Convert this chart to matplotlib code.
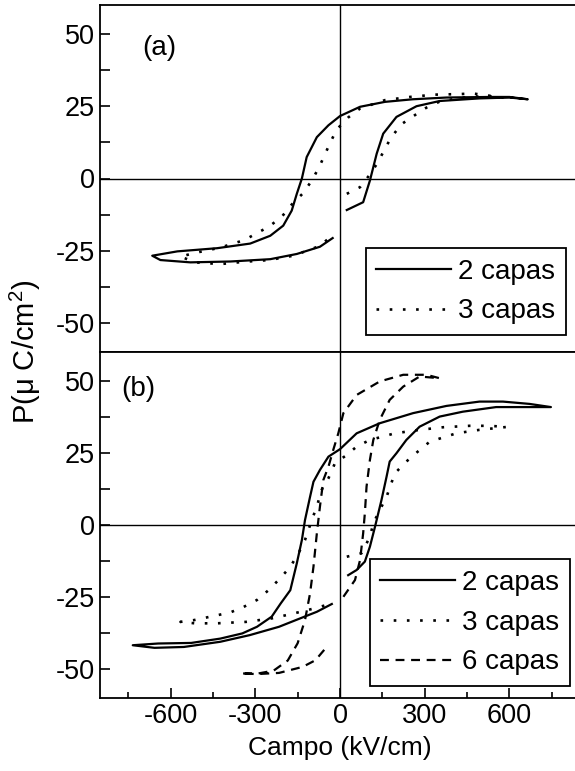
import matplotlib; matplotlib.use('Agg')
import matplotlib.pyplot as plt
from matplotlib.ticker import MultipleLocator

plt.rcParams['font.family'] = ['Liberation Sans', 'DejaVu Sans']
plt.rcParams['axes.unicode_minus'] = False
plt.rcParams['mathtext.fontset'] = 'custom'
plt.rcParams['mathtext.rm'] = 'Liberation Sans'
plt.rcParams['mathtext.it'] = 'Liberation Sans:italic'

# ---- (a) ----
a2_x = [24, 82, 106, 130, 153, 200, 271, 353, 494, 600, 665, 600, 530, 377, 258, 159, 71, 0,
        -41, -82, -118, -135, -153, -171, -201, -247, -318, -435, -576, -665,
        -636, -530, -388, -247, -153, -71, -26]
a2_y = [-10.9, -8.2, -0.7, 8.6, 15.5, 21.3, 25.0, 26.8, 27.7, 28.0, 27.4, 28.2, 28.2, 28.0, 27.4, 26.5, 24.8, 21.6,
        18.4, 14.3, 7.4, 0.0, -5.3, -11.1, -16.3, -19.8, -22.5, -24.1, -25.2, -26.7,
        -28.2, -29.0, -28.7, -27.9, -26.1, -23.6, -20.6]
a3_x = [24, 71, 106, 135, 159, 182, 218, 265, 306, 353, 435, 518, 577, 471, 424, 335, 247, 159, 71, 29,
        -12, -35, -55, -74, -100, -130, -171, -206, -251, -339, -424, -512, -565,
        -512, -424, -339, -251, -165, -71, -29]
a3_y = [-5.3, -3.0, 1.4, 5.7, 10.3, 14.3, 18.8, 21.9, 24.5, 26.6, 28.0, 28.5, 28.0, 29.4, 29.2, 29.0, 28.2, 27.1, 24.2, 21.1,
        16.9, 12.3, 8.0, 3.9, -0.7, -5.0, -9.0, -13.2, -16.6, -21.3, -23.9, -25.7, -27.0,
        -29.0, -29.6, -28.8, -28.2, -26.7, -23.3, -19.8]

# ---- (b) ----
b2_x = [29, 59, 88, 106, 124, 147, 165, 176, 200, 235, 282, 353, 435, 553, 671, 747,
        671, 577, 494, 377, 259, 141, 59, 0, -41, -71, -94, -106, -124, -135, -153, -176, -210,
        -242, -294, -346, -424, -527, -644, -734,
        -657, -553, -424, -320, -216, -126, -82, -29]
b2_y = [-17.4, -15.6, -12.7, -7.5, -0.6, 8.7, 16.8, 22.0, 24.9, 29.5, 34.1, 37.6, 39.3, 40.9, 40.9, 40.9,
        42.0, 42.8, 42.8, 41.3, 38.8, 35.3, 31.8, 26.3, 23.7, 19.1, 15.0, 9.8, 1.7, -5.2, -13.3, -22.6, -27.2,
        -31.8, -35.3, -37.6, -39.4, -40.9, -41.1, -41.7,
        -42.6, -42.3, -40.5, -38.2, -35.3, -31.8, -30.1, -27.4]
b3_x = [24, 76, 106, 118, 141, 165, 194, 235, 276, 318, 412, 494, 590,
        530, 459, 365, 282, 194, 153, 106, 59, 24, -18, -41, -65, -82, -100, -124, -147, -176,
        -212, -253, -294, -341, -388, -435, -518, -565,
        -514, -436, -333, -242, -165, -94, -35]
b3_y = [-11.0, -9.8, -4.1, 0.6, 5.2, 9.8, 17.9, 22.0, 25.5, 28.9, 31.8, 33.0, 34.0,
        34.4, 34.4, 33.9, 33.0, 31.8, 30.7, 29.5, 27.2, 24.3, 21.4, 16.2, 12.2, 6.4, 1.7, -5.2, -9.8, -14.5,
        -18.5, -22.6, -26.0, -28.4, -30.3, -31.3, -33.0, -33.6,
        -34.1, -34.1, -33.6, -32.4, -30.7, -29.0, -27.4]
b6_x = [12, 53, 71, 82, 88, 94, 106, 118, 141, 176, 224, 282, 353,
        306, 224, 141, 59, 12, -6, -24, -41, -59, -71, -82, -94, -106, -124, -150, -185, -235, -290, -352,
        -294, -216, -132, -87, -42]
b6_y = [-24.9, -19.1, -12.2, -2.9, 4.1, 13.3, 22.6, 29.5, 36.5, 43.4, 48.0, 51.5, 50.9,
        52.1, 52.1, 49.8, 45.1, 38.8, 31.8, 26.0, 20.2, 15.6, 6.4, -2.9, -14.5, -23.7, -33.0, -41.0, -47.0, -50.5, -51.5, -51.5,
        -51.7, -51.3, -49.2, -46.9, -41.7]

labels = ['2 capas', '3 capas', '6 capas']
FS = 19.5
solid = dict(color='black', lw=1.6, ls='-')
dotted = dict(color='black', lw=1.9, ls=(0, (1, 4)))
dashed = dict(color='black', lw=1.6, ls=(0, (4, 3)))

fig = plt.figure(figsize=(5.75, 7.71), dpi=100)
axa = fig.add_axes([100/575, 1-352/771, 480/575, 347/771])
axb = fig.add_axes([100/575, 1-698/771, 480/575, 346/771])

axa.plot(a2_x, a2_y, label=labels[0], **solid)
axa.plot(a3_x, a3_y, label=labels[1], **dotted)
axb.plot(b2_x, b2_y, label=labels[0], **solid)
axb.plot(b3_x, b3_y, label=labels[1], **dotted)
axb.plot(b6_x, b6_y, label=labels[2], **dashed)

for ax in (axa, axb):
    ax.set_xlim(-850, 850); ax.set_ylim(-60, 60)
    ax.axhline(0, color='black', lw=1.0); ax.axvline(0, color='black', lw=1.0)
    ax.spines['right'].set_visible(False)
    for s in ('left', 'top', 'bottom'): ax.spines[s].set_linewidth(1.3)
    ax.xaxis.set_major_locator(MultipleLocator(300)); ax.xaxis.set_minor_locator(MultipleLocator(150))
    ax.yaxis.set_major_locator(MultipleLocator(25)); ax.yaxis.set_minor_locator(MultipleLocator(12.5))
    ax.tick_params(which='both', direction='in', labelsize=FS, width=1.2, right=False, top=False)
    ax.tick_params(which='major', length=7); ax.tick_params(axis='y', which='minor', length=7)
    ax.tick_params(axis='x', which='minor', length=4)
axa.tick_params(axis='x', which='both', bottom=False, labelbottom=False)

axa.text(-700, 45, '(a)', fontsize=20, va='center')
axb.text(-775, 47, '(b)', fontsize=20, va='center')
axb.set_xlabel('Campo (kV/cm)', fontsize=19, labelpad=5)
fig.text(25/575, 1-352/771, r'P(μ C/cm$^{2}$)', fontsize=21, rotation=90, ha='center', va='center')

leg_kw = dict(loc='lower right', bbox_transform=fig.transFigure, fontsize=20, frameon=True, fancybox=False,
              edgecolor='black', handlelength=2.7, handletextpad=0.25, labelspacing=0.5, borderpad=0.38,
              borderaxespad=0)
la = axa.legend(bbox_to_anchor=(566/575, 1-335/771), **leg_kw)
lb = axb.legend(bbox_to_anchor=(570/575, 1-686/771), **leg_kw)
for lg in (la, lb):
    lg.get_frame().set_linewidth(1.3); lg.get_frame().set_alpha(1)

fig.savefig('out.png', dpi=100)
